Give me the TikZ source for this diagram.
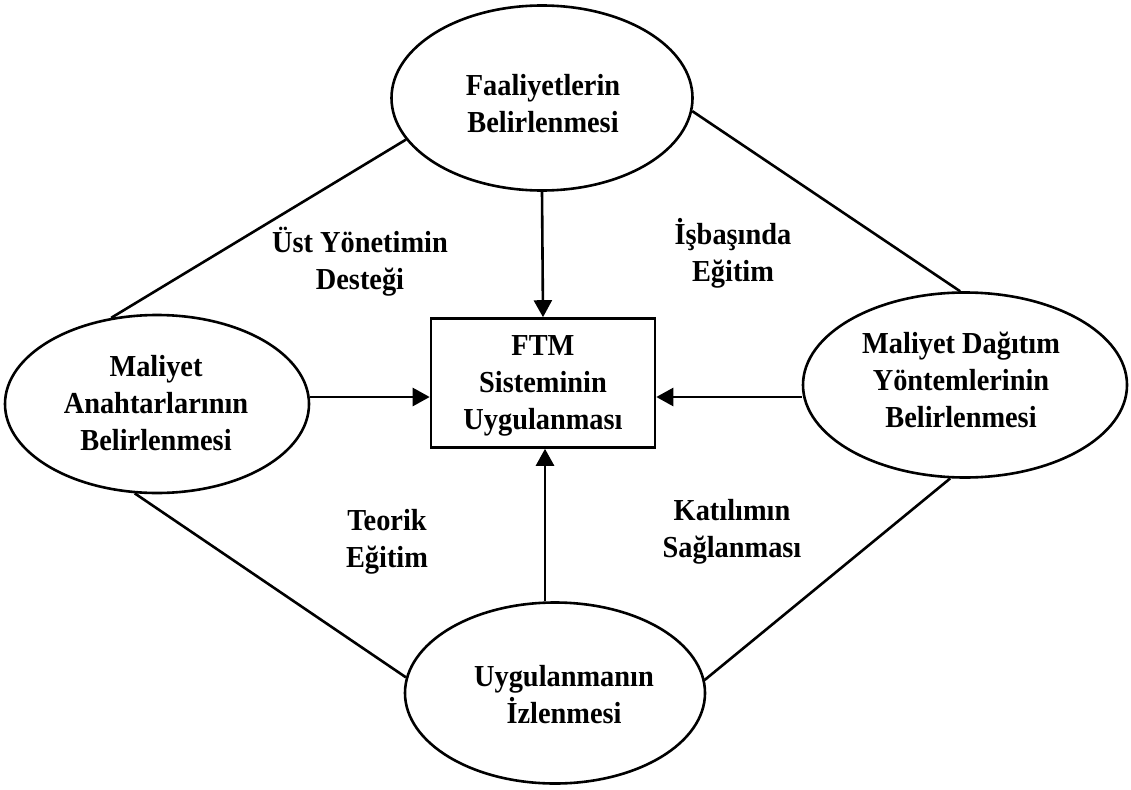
\documentclass[tikz,border=0pt]{standalone}
\usepackage{fontspec}
\setmainfont{Liberation Serif}[FakeStretch=0.93]
\usetikzlibrary{arrows.meta,shapes.geometric}
\begin{document}
\begin{tikzpicture}[x=1pt,y=-1pt,
  ell/.style={draw,ellipse,line width=2.6pt,inner sep=0pt},
  txt/.style={align=center,font=\fontsize{30.5}{37}\selectfont\bfseries,inner sep=0pt},
  conn/.style={line width=2.6pt},
  arr/.style={line width=2.6pt,-{Triangle[length=17pt,width=18pt]}}]
\useasboundingbox (0,0) rectangle (1131,789);
% ellipses
\node[ell,minimum width=301pt,minimum height=185pt] (top) at (542,98) {};
\node[ell,minimum width=304pt,minimum height=178pt] (left) at (157,404) {};
\node[ell,minimum width=324pt,minimum height=185pt] (right) at (965,385) {};
\node[ell,minimum width=300pt,minimum height=181pt] (bot) at (555,693) {};
\node[draw,line width=2.6pt,minimum width=224pt,minimum height=129pt,inner sep=0pt] (box) at (543,383) {};
% texts
\node[txt] (ttop) at (543,104) {Faaliyetlerin\\Belirlenmesi};
\node[txt] (tleft) at (156,403) {Maliyet\\Anahtarlarının\\Belirlenmesi};
\node[txt] (tright) at (961,380) {Maliyet Dağıtım\\Yöntemlerinin\\Belirlenmesi};
\node[txt] (tbot) at (564,695) {Uygulanmanın\\İzlenmesi};
\node[txt] (tbox) at (543,386) {FTM\\Sisteminin\\Uygulanması};
\node[txt] (l1) at (360,262) {Üst Yönetimin\\Desteği};
\node[txt] (l2) at (733,253) {İşbaşında\\Eğitim};
\node[txt] (l3) at (387,542) {Teorik\\Eğitim};
\node[txt] (l4) at (732,532) {Katılımın\\Sağlanması};
% connectors
\coordinate (mid) at (0,397);
\draw[conn] (top.197) -- (left.118);
\draw[conn] (top.-5) -- (right.93);
\draw[conn] (left.256) -- (bot.174);
\draw[conn] (right.261) -- (bot.5);
\draw[arr] (top.south) -- (box.north);
\draw[arr] (left.east |- mid) -- (box.west |- mid);
\draw[arr] (right.west |- mid) -- (box.east |- mid);
\draw[arr] (bot.north -| box.south) ++(2,0) coordinate (bs) -- (bs |- box.south);
\end{tikzpicture}
\end{document}
